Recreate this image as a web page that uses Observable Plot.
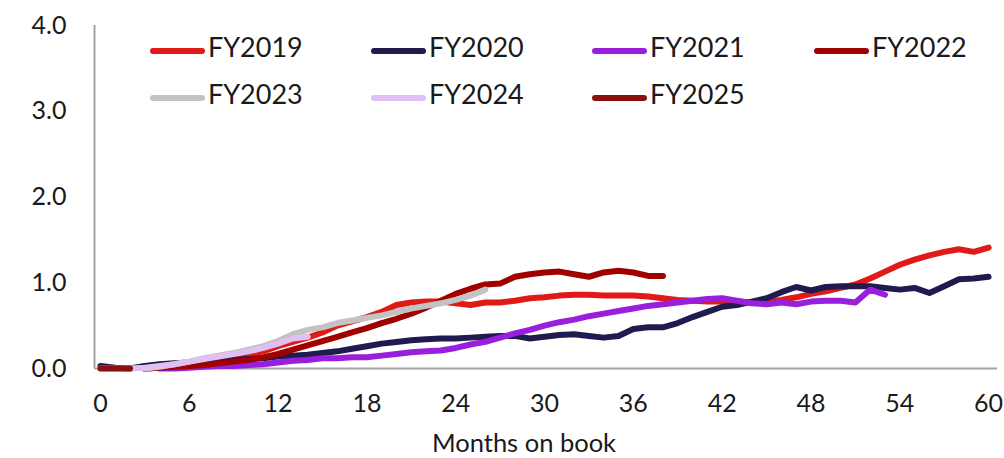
<!DOCTYPE html>
<html>
<head>
<meta charset="utf-8">
<script src="https://cdn.jsdelivr.net/npm/d3@7"></script>
<script src="https://cdn.jsdelivr.net/npm/@observablehq/plot@0.6"></script>
<style>
  html, body { margin: 0; padding: 0; background: #fff; }
  #wrap { position: relative; width: 1004px; height: 458px; font-family: Lato, "Open Sans", sans-serif; }
  .sw { position: absolute; width: 55px; height: 6px; border-radius: 3px; }
  .lt { position: absolute; font-size: 27px; line-height: 27px; color: #1a1a1a; white-space: nowrap; }
</style>
</head>
<body>
<div id="wrap"></div>
<script>
// ---- Data ----
const seriesNames = ["FY2019", "FY2020", "FY2021", "FY2022", "FY2023", "FY2024", "FY2025"];
const seriesColors = ["#e01b17", "#1f1b4e", "#9a1fdc", "#a00000", "#c3c3c3", "#e0bff2", "#8c1010"];

// first month on book of each series
const startMonths = [3, 0, 4, 3, 3, 0, 0];

const fy2019 = [0, 0.01, 0.03, 0.05, 0.07, 0.09, 0.12, 0.16, 0.20, 0.26, 0.31, 0.36, 0.42, 0.50, 0.55, 0.60, 0.66, 0.74, 0.77, 0.78,
  0.78, 0.76, 0.74, 0.77, 0.77, 0.79, 0.82, 0.83, 0.85, 0.86, 0.86, 0.85, 0.85, 0.85, 0.84, 0.82, 0.80, 0.79, 0.78, 0.78,
  0.78, 0.77, 0.78, 0.80, 0.83, 0.87, 0.90, 0.94, 0.98, 1.05, 1.13, 1.21, 1.27, 1.32, 1.36, 1.39, 1.36, 1.41];
const fy2020 = [0.03, 0.01, 0.00, 0.03, 0.05, 0.06, 0.07, 0.08, 0.09, 0.10, 0.11, 0.12, 0.14, 0.15, 0.16, 0.18, 0.20, 0.23, 0.26, 0.29,
  0.31, 0.33, 0.34, 0.35, 0.35, 0.36, 0.37, 0.38, 0.38, 0.35, 0.37, 0.39, 0.40, 0.38, 0.36, 0.38, 0.46, 0.48, 0.48, 0.53,
  0.60, 0.66, 0.72, 0.74, 0.78, 0.82, 0.89, 0.95, 0.91, 0.95, 0.96, 0.96, 0.96, 0.94, 0.92, 0.94, 0.88, 0.96, 1.04, 1.05, 1.07];
const fy2021 = [0, 0.00, 0.01, 0.02, 0.03, 0.03, 0.04, 0.05, 0.07, 0.09, 0.10, 0.12, 0.12, 0.13, 0.13, 0.15, 0.17, 0.19, 0.20, 0.21,
  0.24, 0.28, 0.31, 0.36, 0.41, 0.45, 0.50, 0.54, 0.57, 0.61, 0.64, 0.67, 0.70, 0.73, 0.75, 0.77, 0.79, 0.81, 0.82, 0.79,
  0.76, 0.75, 0.77, 0.75, 0.78, 0.79, 0.79, 0.77, 0.92, 0.86];
const fy2022 = [0, 0.01, 0.02, 0.03, 0.04, 0.06, 0.08, 0.10, 0.13, 0.17, 0.22, 0.27, 0.32, 0.37, 0.42, 0.47, 0.53, 0.58, 0.64, 0.71,
  0.79, 0.87, 0.93, 0.98, 0.99, 1.07, 1.10, 1.12, 1.13, 1.10, 1.07, 1.12, 1.14, 1.12, 1.08, 1.08];
const fy2023 = [0, 0.02, 0.05, 0.08, 0.12, 0.15, 0.18, 0.22, 0.26, 0.32, 0.40, 0.45, 0.48, 0.53, 0.56, 0.59, 0.62, 0.66, 0.70, 0.73,
  0.76, 0.80, 0.85, 0.92];
const fy2024 = [0, 0, 0, 0.01, 0.03, 0.05, 0.08, 0.11, 0.14, 0.17, 0.20, 0.24, 0.29, 0.35, 0.37];
const fy2025 = [0, 0, 0];

const xTicks = [0, 6, 12, 18, 24, 30, 36, 42, 48, 54, 60];
const yTicks = [0, 1, 2, 3, 4];
const xDomain = [-0.4, 60.6];
const yDomain = [0, 4];
const xLabel = "Months on book";

// ---- Build table ----
const allSeries = [fy2019, fy2020, fy2021, fy2022, fy2023, fy2024, fy2025];
const rows = [];
allSeries.forEach((vals, i) => {
  vals.forEach((v, j) => rows.push({series: seriesNames[i], month: startMonths[i] + j, value: v}));
});

const chart = Plot.plot({
  width: 1004,
  height: 458,
  marginLeft: 94,
  marginRight: 7,
  marginTop: 25,
  marginBottom: 90,
  style: {fontFamily: "Lato, 'Open Sans', sans-serif", fontSize: "25px", color: "#1a1a1a", background: "#fff", overflow: "visible"},
  x: {domain: xDomain},
  y: {domain: yDomain},
  color: {domain: seriesNames, range: seriesColors},
  marks: [
    Plot.axisY({ticks: yTicks, tickFormat: d => d.toFixed(1), tickSize: 0, tickPadding: 28, label: null, fontSize: 25}),
    Plot.axisX({ticks: xTicks, tickFormat: d => String(d), tickSize: 0, tickPadding: 26, label: null, fontSize: 25}),
    Plot.ruleX([xDomain[0]], {stroke: "#a3a3a3", strokeWidth: 2}),
    Plot.ruleY([yDomain[0]], {stroke: "#a3a3a3", strokeWidth: 2}),
    Plot.line(rows, {x: "month", y: "value", z: "series", stroke: "series", strokeWidth: 6,
      strokeLinejoin: "round", strokeLinecap: "round", strokeOpacity: 1}),
    Plot.text([xLabel], {frameAnchor: "bottom", dy: 83, dx: -22, fontSize: 25.5, fill: "#1a1a1a"})
  ]
});

const wrap = document.getElementById("wrap");
wrap.appendChild(chart);

// ---- Legend overlay (two rows, four columns) ----
const legendCols = [150, 371, 592, 814];
const legendRows = [51, 98];
seriesNames.forEach((name, i) => {
  const cx = legendCols[i % 4];
  const cy = legendRows[Math.floor(i / 4)];
  const sw = document.createElement("div");
  sw.className = "sw";
  sw.style.left = cx + "px";
  sw.style.top = (cy - 3) + "px";
  sw.style.background = seriesColors[i];
  wrap.appendChild(sw);
  const t = document.createElement("div");
  t.className = "lt";
  t.textContent = name;
  t.style.left = (cx + 58) + "px";
  t.style.top = (cy - 18) + "px";
  wrap.appendChild(t);
});
</script>
</body>
</html>
